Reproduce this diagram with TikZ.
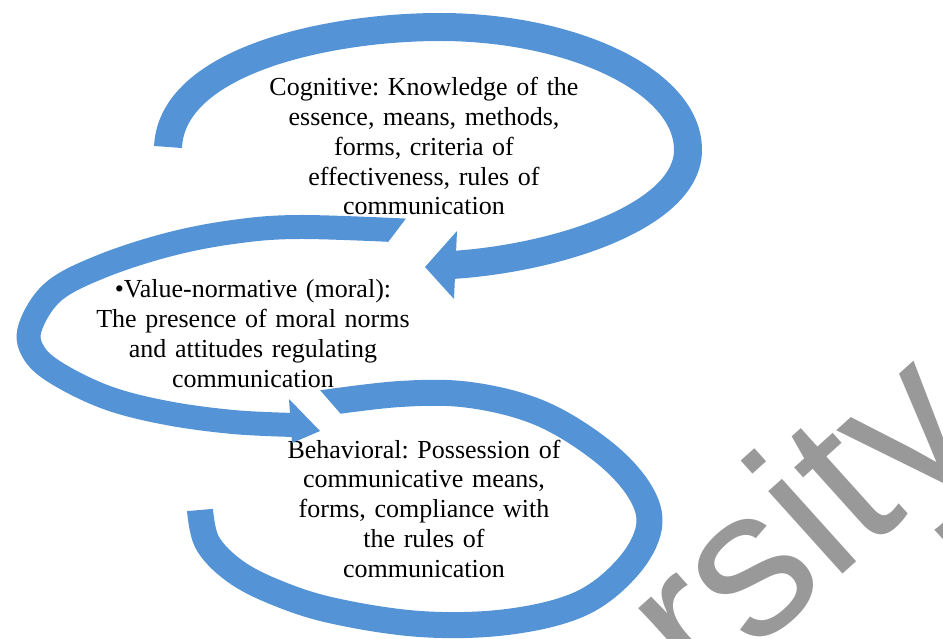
\documentclass[tikz,border=0pt]{standalone}
\usepackage{fontspec}
\setmainfont{Liberation Serif}
\newfontfamily\wmfont{Liberation Sans}
\definecolor{arrowblue}{RGB}{84,148,214}
\definecolor{wmgray}{RGB}{153,153,153}
\newcommand\blockfont{\fontsize{26}{29.75}\selectfont\frenchspacing\spaceskip=0.13em plus 0.05em\relax}
\begin{document}
\begin{tikzpicture}[x=1pt,y=-1pt,
  band/.style={draw=arrowblue, line cap=butt, line join=round},
  head/.style={fill=arrowblue, draw=none},
  blocktext/.style={text width=420pt, align=center, anchor=base, inner sep=0pt,
    font=\blockfont},
]
\useasboundingbox (0,0) rectangle (943,639);
\fill[white] (0,0) rectangle (943,639);

% texts
\node[blocktext] (cog) at (424,96) {Cognitive: Knowledge of the\\ essence, means, methods,\\ forms, criteria of\\ effectiveness, rules of\\ communication};
\node[blocktext] (val) at (253,298) {\textbullet Value-normative (moral):\\ The presence of moral norms\\ and attitudes regulating\\ communication};
\node[blocktext] (beh) at (424,458) {Behavioral: Possession of\\ communicative means,\\ forms, compliance with\\ the rules of\\ communication};

% shape 1 (top, arrow to the left)
\coordinate (s1a) at (168,147);
\coordinate (s1b) at (452,265);
\draw[band, line width=28pt] (s1a) .. controls (172,60) and (330,27) .. (440,27)
   .. controls (570,27) and (688,80) .. (688,150)
   .. controls (688,215) and (560,258) .. (s1b);
\coordinate (h1tip) at (425,267);
\fill[head] (457,231) -- (h1tip) -- (454,299) -- cycle;

% shape 2 (left, arrow to the right), slanted tail cut
\begin{scope}[even odd rule]
\clip (0,0) rectangle (943,639)
  (420,200) -- (374.5,260) -- (480,260) -- (480,200) -- cycle;
\draw[band, line width=24pt] plot[smooth, tension=0.6] coordinates {
  (414,231) (300,227) (233,232) (167,245) (100,267) (53,292) (30,328)
  (34,353) (58,374) (108,398) (167,413) (233,422) (294,425)};
\end{scope}
\coordinate (h2tip) at (320,431);
\fill[head] (289,399) -- (h2tip) -- (292,443) -- cycle;

% shape 3 (bottom loop), slanted tail cut
\begin{scope}[even odd rule]
\clip (0,0) rectangle (943,639)
  (311.3,380) -- (346,420) -- (260,420) -- (260,380) -- cycle;
\draw[band, line width=26pt] plot[smooth, tension=0.6] coordinates {
  (200,510) (207,542) (232,569) (270,590) (330,610) (420,624) (507,622)
  (580,604) (627,568) (649,527) (639,490) (601,450) (540,413) (470,395)
  (400,394) (316,404)};
\end{scope}

% watermark
\begin{scope}
\clip (0,0) rectangle (943,639);
\node[rotate=42, anchor=base west, inner sep=0pt, text=wmgray,
  font=\wmfont\fontsize{210}{210}\selectfont] (wm) at (303,1060) {University};
\end{scope}
\end{tikzpicture}
\end{document}
